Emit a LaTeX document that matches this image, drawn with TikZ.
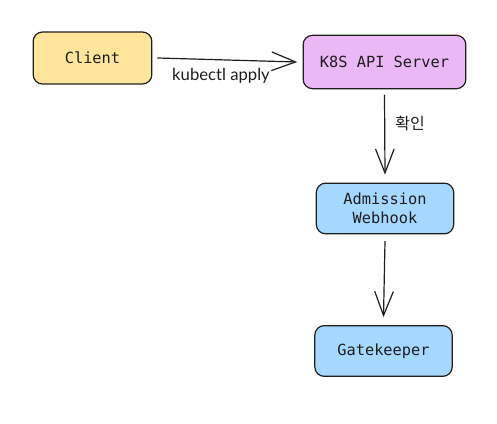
\documentclass[tikz,border=0pt]{standalone}
\usepackage{fontspec}
\setmainfont{Lato}
\setmonofont{DejaVu Sans Mono}
\newfontfamily\korean{Noto Sans CJK KR}
\usetikzlibrary{arrows.meta,positioning}
\definecolor{ink}{HTML}{1E1E1E}
\definecolor{sand}{HTML}{FFE599}
\definecolor{orchid}{HTML}{E9B8F5}
\definecolor{sky}{HTML}{A5D8FF}
\tikzset{
  >={Straight Barb[length=18pt,width=14pt]},
  every node/.style={text=ink},
  comp/.style={draw=ink,line width=0.9pt,rounded corners=7pt,align=center,font=\ttfamily\fontsize{11.5}{14}\selectfont,inner sep=2pt},
  clientbox/.style={comp,fill=sand,minimum width=89pt,minimum height=39pt},
  apibox/.style={comp,fill=orchid,minimum width=122pt,minimum height=40pt},
  hookbox/.style={comp,fill=sky,minimum width=103pt,minimum height=38pt},
  arrow/.style={->,line width=0.9pt,draw=ink},
  labeltext/.style={font=\fontsize{12.5}{14}\selectfont}
}
\begin{document}
\begin{tikzpicture}[x=0.75pt,y=-0.75pt]
  \useasboundingbox (0,0) rectangle (497,424);
  \node[clientbox] (client) at (92.5,58) {Client};
  \node[apibox] (api) at (384.5,62) {K8S API Server};
  \node[hookbox] (webhook) at (385,208.5) {Admission\\Webhook};
  \node[hookbox] (gate) at (383.5,351) {Gatekeeper};

  \draw[arrow] (client.east) ++(5,0) coordinate (c1) -- ([xshift=-4pt]api.west);
  \node[labeltext] (apply) at (221,76) {kubectl apply};
  \draw[arrow] ([yshift=-4pt]api.south) -- ([yshift=6pt]webhook.north);
  \node[labeltext,font=\korean\fontsize{12}{14}\selectfont] (check) at (410,123) {확인};
  \draw[arrow] ([yshift=-5pt]webhook.south) -- ([yshift=6pt]gate.north);
\end{tikzpicture}
\end{document}
